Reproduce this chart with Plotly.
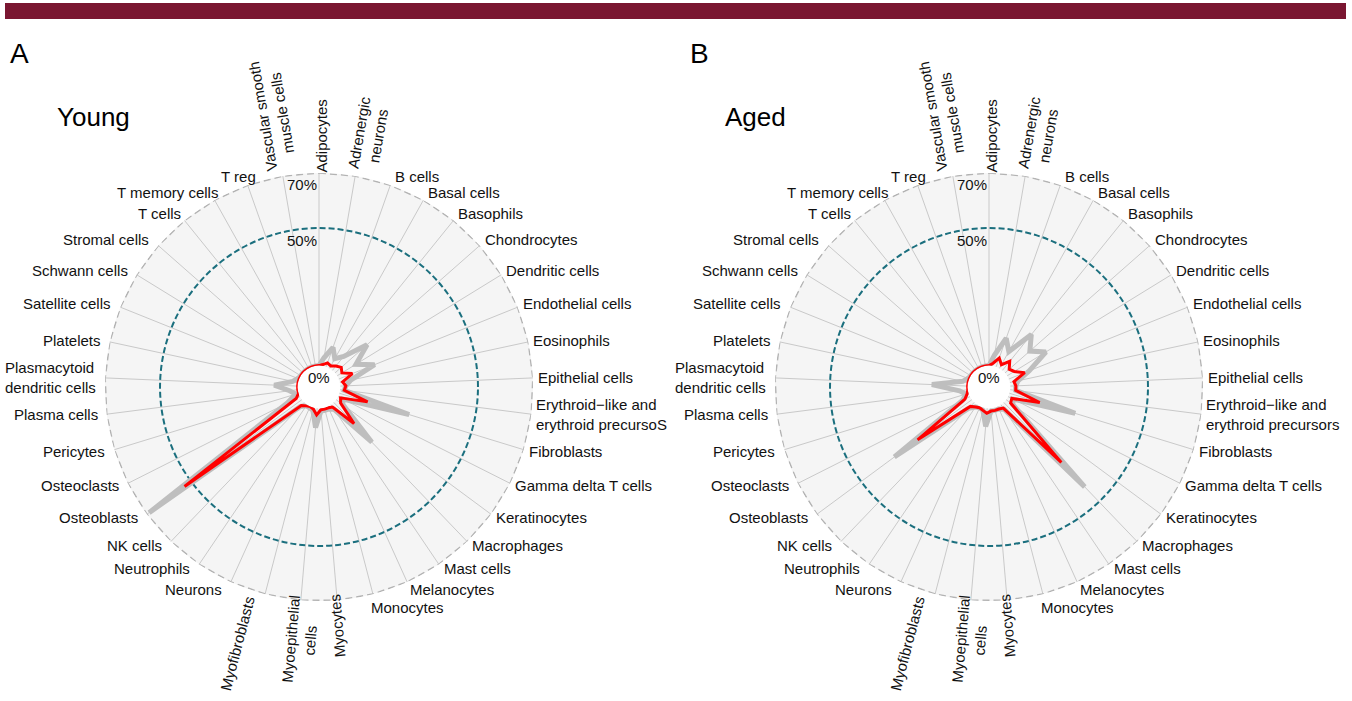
import math
import plotly.graph_objects as go

# ---------------- data ----------------
CATEGORIES = [
    "Adipocytes", "Adrenergic neurons", "B cells", "Basal cells", "Basophils",
    "Chondrocytes", "Dendritic cells", "Endothelial cells", "Eosinophils",
    "Epithelial cells", "Erythroid-like and erythroid precursors", "Fibroblasts",
    "Gamma delta T cells", "Keratinocytes", "Macrophages", "Mast cells",
    "Melanocytes", "Monocytes", "Myocytes", "Myoepithelial cells",
    "Myofibroblasts", "Neurons", "Neutrophils", "NK cells", "Osteoblasts",
    "Osteoclasts", "Pericytes", "Plasma cells", "Plasmacytoid dendritic cells",
    "Platelets", "Satellite cells", "Schwann cells", "Stromal cells", "T cells",
    "T memory cells", "T reg", "Vascular smooth muscle cells",
]

LABELS_YOUNG = [
    "Adipocytes", "Adrenergic<br>neurons", "B cells", "Basal cells", "Basophils",
    "Chondrocytes", "Dendritic cells", "Endothelial cells", "Eosinophils",
    "Epithelial cells", "Erythroid\u2212like and<br>erythroid precursoS", "Fibroblasts",
    "Gamma delta T cells", "Keratinocytes", "Macrophages", "Mast cells",
    "Melanocytes", "Monocytes", "Myocytes", "Myoepithelial<br>cells",
    "Myofibroblasts", "Neurons", "Neutrophils", "NK cells", "Osteoblasts",
    "Osteoclasts", "Pericytes", "Plasma cells", "Plasmacytoid<br>dendritic cells",
    "Platelets", "Satellite cells", "Schwann cells", "Stromal cells", "T cells",
    "T memory cells", "T reg", "Vascular smooth<br>muscle cells",
]
LABELS_AGED = list(LABELS_YOUNG)
LABELS_AGED[10] = "Erythroid\u2212like and<br>erythroid precursors"

# percentages (%), one value per category
YOUNG_GREY = [0, 3, 7.5, 4, 6.5, 15.5, 8, 14, 4, 2, 1.5, 26.5, 2, 3, 20, 2,
              1, 1, 1, 7, 1, 0.5, 0.5, 2, 69, 5, 1, 3, 8.5, 2, 0.5, 0, 0, 0,
              0, 0, 0]
YOUNG_RED = [0, 0.5, 1.5, 1, 2, 3, 2, 5.3, 1, 2, 1.5, 10.7, 1, 2, 10.6, 1,
             0.5, 0.5, 0.5, 2.4, 0.5, 0, 0.5, 1.5, 53, 1.5, 0, 0, 0, 0, 0, 0,
             0, 0, 0, 0, 0]
AGED_GREY = [0, 4, 11, 7, 16.7, 12, 16.5, 8, 3, 2, 2, 25, 2, 3, 42.5, 2,
             1, 1, 1, 6.6, 1, 0.5, 1, 3, 35, 3, 1, 3, 13, 2, 0.5, 0, 0, 0,
             0, 0, 0]
AGED_RED = [0, 1, 3.4, 1.5, 4.2, 2, 3, 6.2, 1.5, 2, 2, 11.5, 1.5, 2, 30.2,
            1.5, 1, 1, 1, 1.8, 1, 0.5, 1, 2, 24.5, 2, 0.5, 0, 0, 0, 0, 0, 0,
            0, 0, 0, 0]

PANEL_LETTERS = ["A", "B"]
PANEL_TITLES = ["Young", "Aged"]
R_GRID_MID = 50
R_MAX = 70
R_TICK_TEXT = {0: "0%", 50: "50%", 70: "70%"}

# ---------------- layout constants ----------------
W, H = 1352, 701
R_PX = 214
CENTERS = [(319, 387), (989, 387)]
HOLE = 0.1
FONT = "Liberation Sans, Arial, sans-serif"
GREY_LINE = "#BEBEBE"
RED_LINE = "#FF0000"
TEAL = "#1B6F7E"

panels = [
    (YOUNG_GREY, YOUNG_RED, LABELS_YOUNG),
    (AGED_GREY, AGED_RED, LABELS_AGED),
]


def px(x, y):
    return x / W, 1 - y / H


def r_to_px(v):
    return R_PX * (HOLE + (1 - HOLE) * v / R_MAX)


fig = go.Figure()
annotations = []
layout_polars = {}

n = len(CATEGORIES)
theta_closed = CATEGORIES + [CATEGORIES[0]]
lab_font = dict(family=FONT, size=15, color="#111")

for p, (grey, red, labels) in enumerate(panels):
    pname = "polar" if p == 0 else f"polar{p + 1}"
    cx, cy = CENTERS[p]
    layout_polars[pname] = dict(
        domain=dict(x=[(cx - R_PX) / W, (cx + R_PX) / W],
                    y=[1 - (cy + R_PX) / H, 1 - (cy - R_PX) / H]),
        hole=HOLE,
        bgcolor="#F5F5F5",
        radialaxis=dict(range=[0, R_MAX], tickvals=[R_GRID_MID], showticklabels=False,
                        ticks="", showline=False, gridcolor=TEAL, griddash="6px,3px",
                        gridwidth=1.6, layer="below traces"),
        angularaxis=dict(type="category", categoryarray=CATEGORIES, direction="clockwise",
                         rotation=90, showticklabels=False, ticks="", showline=False,
                         gridcolor="#C9C9C9", gridwidth=1, layer="below traces"),
    )
    sub = pname
    # outer dashed circle at the max of the radial range
    fig.add_trace(go.Scatterpolar(
        r=[R_MAX] * (n + 1), theta=theta_closed, mode="lines", subplot=sub,
        line=dict(color="#B3B3B3", width=1.5, dash="7px,4px"),
        cliponaxis=False, hoverinfo="skip", showlegend=False))
    fig.add_trace(go.Scatterpolar(
        r=grey + [grey[0]], theta=theta_closed, mode="lines", subplot=sub,
        line=dict(color=GREY_LINE, width=5), cliponaxis=False,
        hoverinfo="skip", showlegend=False))
    fig.add_trace(go.Scatterpolar(
        r=red + [red[0]], theta=theta_closed, mode="lines", subplot=sub,
        line=dict(color=RED_LINE, width=3), cliponaxis=False,
        hoverinfo="skip", showlegend=False))

    # category labels
    for i, lab in enumerate(labels):
        phi = 90 - i * 360 / n
        if phi <= -180:
            phi += 360
        c, s = math.cos(math.radians(phi)), math.sin(math.radians(phi))
        if 75 <= phi <= 105:
            x, y = px(cx + 214 * c + 70 * c + 2, cy - 212)
            annotations.append(dict(x=x, y=y, xref="paper", yref="paper", text=lab,
                                    textangle=-phi, xanchor="center", yanchor="bottom",
                                    showarrow=False, align="center", font=lab_font))
        elif -110 <= phi <= -80:
            off = 110 * c if abs(c) > 0.2 else 0
            x, y = px(cx + 214 * c + off, cy + 205)
            annotations.append(dict(x=x, y=y, xref="paper", yref="paper", text=lab,
                                    textangle=-(phi + 180), xanchor="center", yanchor="top",
                                    showarrow=False, align="center", font=lab_font))
        else:
            bx = cx + R_PX * c
            if s >= 0:
                by = cy - R_PX * s - 9 * s
            else:
                by = cy - R_PX * s - 5 * s + 100 * max(0.0, -s - 0.88)
            if c > 0:
                bx += 3 - (80 * max(0.0, -s - 0.88))
                xa = "left"
            else:
                bx += -7 + max(0.0, s - 0.7) * 70
                xa = "right"
            x, y = px(bx, by)
            annotations.append(dict(x=x, y=y, xref="paper", yref="paper", text=lab,
                                    xanchor=xa, yanchor="middle", showarrow=False,
                                    align="left", font=lab_font))

    # radial tick labels
    for v, t in R_TICK_TEXT.items():
        if v == 0:
            x, y = px(cx, cy - 9)
            annotations.append(dict(x=x, y=y, xref="paper", yref="paper", text=t,
                                    xanchor="center", yanchor="middle", showarrow=False,
                                    font=lab_font))
        else:
            x, y = px(cx, cy - r_to_px(v) + 12)
            annotations.append(dict(x=x, y=y, xref="paper", yref="paper", text=t,
                                    xanchor="right", yanchor="middle", showarrow=False,
                                    font=lab_font))

    # panel letter and title
    lx = 8 + p * 680
    x, y = px(lx, 54)
    annotations.append(dict(x=x, y=y, xref="paper", yref="paper", text=PANEL_LETTERS[p],
                            xanchor="left", yanchor="middle", showarrow=False,
                            font=dict(family=FONT, size=28, color="#000")))
    tx = 55 + p * 668
    x, y = px(tx, 117)
    annotations.append(dict(x=x, y=y, xref="paper", yref="paper", text=PANEL_TITLES[p],
                            xanchor="left", yanchor="middle", showarrow=False,
                            font=dict(family=FONT, size=26, color="#000")))

fig.update_layout(
    width=W, height=H, autosize=False,
    margin=dict(l=0, r=0, t=0, b=0),
    paper_bgcolor="white", plot_bgcolor="white",
    showlegend=False,
    annotations=annotations,
    shapes=[dict(type="rect", xref="paper", yref="paper",
                 x0=5 / W, x1=1346 / W, y0=1 - 19 / H, y1=1 - 3 / H,
                 fillcolor="#7A1631", line=dict(width=0))],
    **layout_polars,
)

fig.write_html("out.html", config={"displayModeBar": False},
               post_script="document.body.style.margin='0px';document.body.style.overflow='hidden';")
